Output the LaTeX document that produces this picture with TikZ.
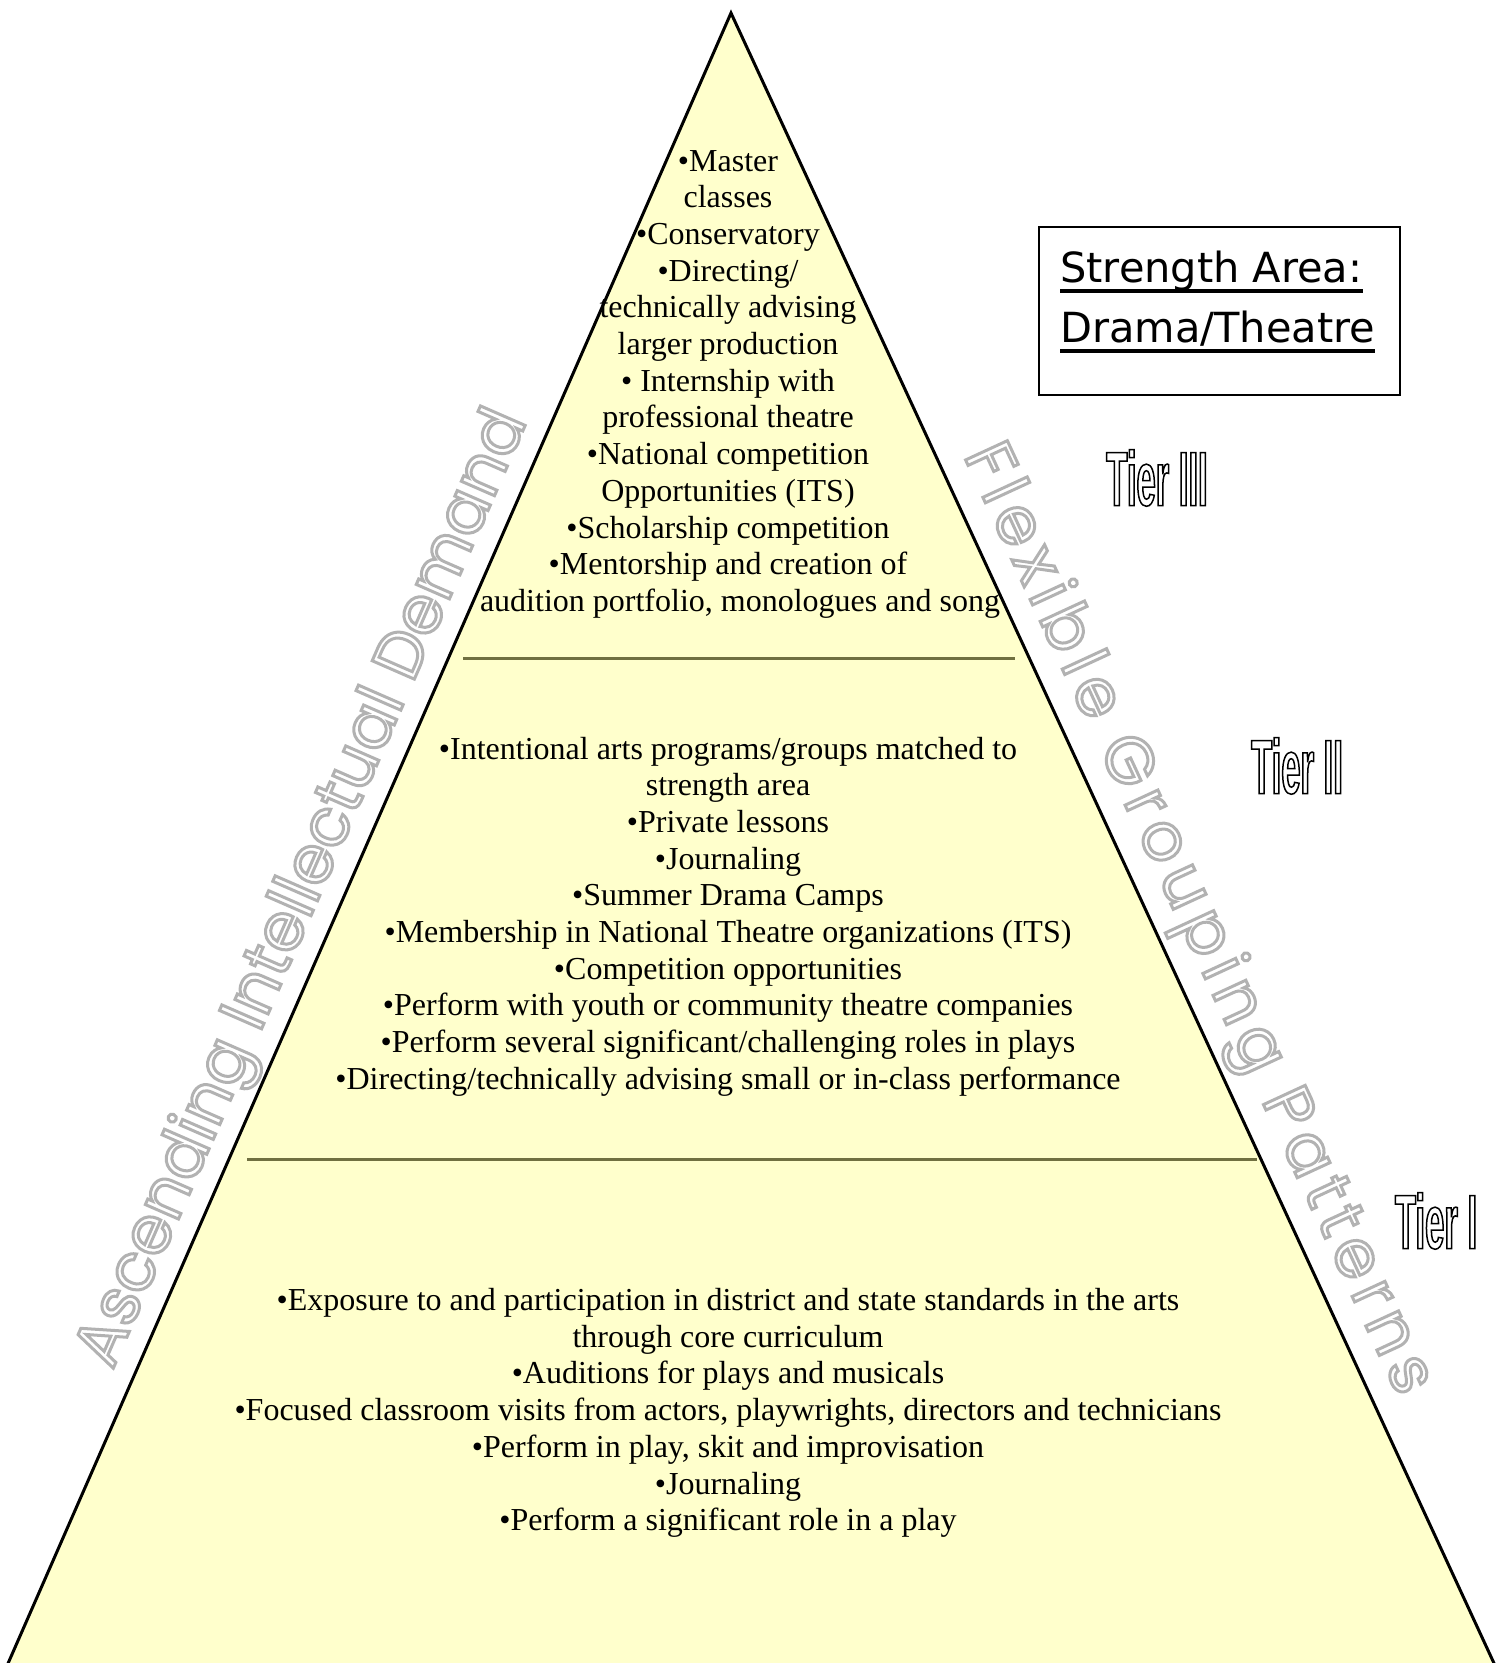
\documentclass[tikz,border=0pt]{standalone}
\usepackage{fontspec}
\setmainfont{Liberation Serif}
\newfontfamily\sidefont{Poppins}
\newfontfamily\sidefontwide[LetterSpace=12]{Poppins}
\newfontfamily\boxfont{DejaVu Sans}
\newfontfamily\tierfont[FakeStretch=0.45]{Liberation Sans}
\definecolor{pyramid}{RGB}{255,255,204}
\definecolor{tierrule}{RGB}{112,112,64}
\newcommand{\hollow}[2]{\special{pdf:literal direct 1 Tr #1 w}#2\special{pdf:literal direct 0 Tr}}

\begin{document}
\begin{tikzpicture}[x=1pt,y=-1pt,
  tiertext/.style={anchor=base,inner sep=0pt,font=\fontsize{32}{36.7}\selectfont},
  tierlabel/.style={inner sep=0pt,font=\tierfont\bfseries\fontsize{77}{80}\selectfont},
  sidetext/.style={inner sep=0pt,text=gray!60},
  boxtext/.style={anchor=base west,inner sep=0pt,font=\boxfont\fontsize{41.5}{44}\selectfont},
  divider/.style={draw=tierrule,line width=3pt}]
\useasboundingbox (0,0) rectangle (1504,1663);
\clip (0,0) rectangle (1504,1663);
% pyramid
\coordinate (apex) at (731,13);
\coordinate (baseL) at (-8,1700);
\coordinate (baseR) at (1511,1700);
\filldraw[fill=pyramid,line width=3pt] (apex) -- (baseR) -- (baseL) -- cycle;
\draw[divider] (463,658) -- (1015,658);
\draw[divider] (247,1159) -- (1257,1159);
% tier III
\foreach \t [count=\i] in {\textbullet Master, classes, \textbullet Conservatory,
  \textbullet Directing/, technically advising, larger production,
  \textbullet{} Internship with, professional theatre, \textbullet National competition,
  Opportunities (ITS), \textbullet Scholarship competition,
  \textbullet Mentorship and creation of, {\hspace*{24pt}audition portfolio, monologues and song}}
{	\node[tiertext] (top-\i) at (728,171+36.7*\i-36.7) {\t};
}
% tier II
\foreach \t [count=\i] in {\textbullet Intentional arts programs/groups matched to,
  strength area, \textbullet Private lessons, \textbullet Journaling,
  \textbullet Summer Drama Camps,
  \textbullet Membership in National Theatre organizations (ITS),
  \textbullet Competition opportunities,
  \textbullet Perform with youth or community theatre companies,
  \textbullet Perform several significant/challenging roles in plays,
  \textbullet Directing/technically advising small or in-class performance}
{	\node[tiertext] (mid-\i) at (728,759+36.7*\i-36.7) {\t};
}
% tier I
\foreach \t [count=\i] in {\textbullet Exposure to and participation in district and state standards in the arts,
  through core curriculum, \textbullet Auditions for plays and musicals,
  {\textbullet Focused classroom visits from actors, playwrights, directors and technicians},
  {\textbullet Perform in play, skit and improvisation}, \textbullet Journaling,
  \textbullet Perform a significant role in a play}
{	\node[tiertext] (low-\i) at (728,1310.5+36.7*\i-36.7) {\t};
}
% strength box
\draw[line width=1.8pt] (1039,227) rectangle (1400,395);
\node[boxtext] (areaA) at (1060,282) {Strength Area:};
\node[boxtext] (areaB) at (1060,342) {Drama/Theatre};
\draw[line width=4pt] ([yshift=-9pt]areaA.base west) -- ([yshift=-9pt]areaA.base east);
\draw[line width=4pt] ([yshift=-9pt]areaB.base west) -- ([yshift=-9pt]areaB.base east);
% tier labels
\node[tierlabel] (tierIII) at (1157,478) {\hollow{1.5}{Tier III}};
\node[tierlabel] (tierII) at (1297,766) {\hollow{1.5}{Tier II}};
\node[tierlabel] (tierI) at (1436,1221) {\hollow{1.5}{Tier I}};
% side texts
\node[sidetext,rotate=66.4,font=\sidefont\fontsize{66}{70}\selectfont] (ascend) at (305,889) {\hollow{3}{Ascending Intellectual Demand}};
\node[sidetext,rotate=-65.2,font=\sidefontwide\fontsize{66}{70}\selectfont] (flex) at (1196,920) {\hollow{3}{Flexible Grouping Patterns}};
\end{tikzpicture}
\end{document}
